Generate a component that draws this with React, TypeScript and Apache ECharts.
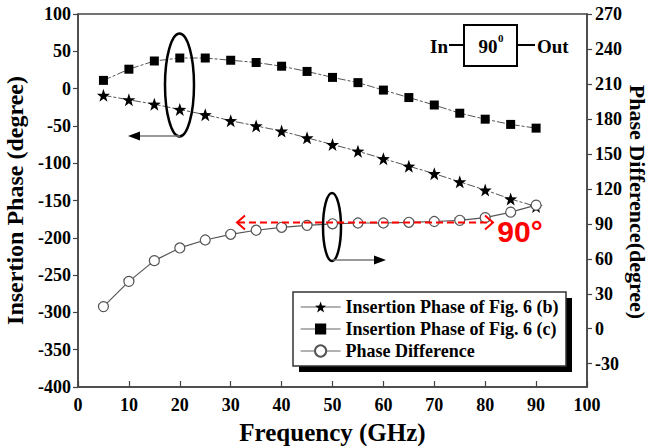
import React, { useEffect, useRef } from 'react';
import * as echarts from 'echarts';

const freqs = [5, 10, 15, 20, 25, 30, 35, 40, 45, 50, 55, 60, 65, 70, 75, 80, 85, 90];
const phaseB = [-9, -15, -21, -28, -35, -43, -50, -57, -66, -75, -84, -94, -104, -114, -125, -136, -148, -158];
const phaseC = [11, 26, 37, 41, 41, 38, 35, 30, 23, 15, 8, -2, -12, -22, -33, -41, -48, -53];
const phaseDiff = [19, 40.6, 58.4, 69.3, 76.1, 81, 84.5, 87, 88.7, 90, 90.7, 90.7, 91.3, 92, 93, 95.3, 100, 106];
const rightTicks = [-30, 0, 30, 60, 90, 120, 150, 180, 210, 240, 270];
const seriesNames = ['Insertion Phase of Fig. 6 (b)', 'Insertion Phase of Fig. 6 (c)', 'Phase Difference'];

const STAR = 'path://M0,-10 L2.35,-3.24 L9.51,-3.09 L3.8,1.24 L5.88,8.09 L0,4 L-5.88,8.09 L-3.8,1.24 L-9.51,-3.09 L-2.35,-3.24Z';
const SERIF = '"Liberation Serif", "Times New Roman", serif';

const pair = (ys: number[]) => freqs.map((f, i) => [f, ys[i]]);

export default function App() {
  const ref = useRef<HTMLDivElement>(null);
  useEffect(() => {
    if (!ref.current) return;
    const chart = echarts.init(ref.current, null, { renderer: 'svg' });
    const tickLabel = { color: '#000', fontFamily: SERIF, fontWeight: 'bold' as const, fontSize: 18 };
    const lineStyle = { color: '#444', width: 1.5 };
    chart.setOption({
      animation: false,
      backgroundColor: '#fff',
      grid: {
        left: 78, right: 65, top: 14, bottom: 59, show: true, borderColor: '#444', borderWidth: 1.5,
        containLabel: false, outerBoundsMode: 'none',
      },
      xAxis: {
        type: 'value', min: 0, max: 100, interval: 10,
        axisLine: { show: true, onZero: false, lineStyle }, splitLine: { show: false },
        axisTick: { inside: true, length: 6, lineStyle: { color: '#444', width: 1.2 } },
        axisLabel: { ...tickLabel, margin: 9 },
        name: 'Frequency (GHz)', nameLocation: 'middle', nameGap: 33,
        nameTextStyle: { color: '#000', fontFamily: SERIF, fontWeight: 'bold', fontSize: 25 },
      },
      yAxis: [
        {
          type: 'value', min: -400, max: 100, interval: 50, position: 'left',
          axisLine: { show: true, onZero: false, lineStyle }, splitLine: { show: false },
          axisTick: { show: true, length: 5, lineStyle: { color: '#444', width: 1.2 } },
          axisLabel: { ...tickLabel, margin: 7 },
          name: 'Insertion Phase (degree)', nameLocation: 'middle', nameGap: 49,
          nameTextStyle: { color: '#000', fontFamily: SERIF, fontWeight: 'bold', fontSize: 24 },
        },
        {
          type: 'value', min: -50, max: 270, position: 'right',
          axisLine: { show: true, onZero: false, lineStyle }, splitLine: { show: false },
          axisTick: { show: true, length: 5, customValues: rightTicks, lineStyle: { color: '#444', width: 1.2 } },
          axisLabel: { ...tickLabel, margin: 8, customValues: rightTicks },
        },
      ],
      legend: {
        orient: 'vertical', left: 300, top: 296, padding: 0, itemGap: 0,
        itemWidth: 40, itemHeight: 14,
        data: seriesNames,
        lineStyle: { type: 'solid', color: '#666', width: 1.2 },
        textStyle: { color: '#000', fontFamily: SERIF, fontWeight: 'bold', fontSize: 18, lineHeight: 22 },
      },
      series: [
        {
          name: seriesNames[0], type: 'line', yAxisIndex: 0, data: pair(phaseB),
          symbol: STAR, symbolSize: 13,
          itemStyle: { color: '#000' },
          lineStyle: { color: '#555', width: 1, type: [8, 2, 3, 2] },
        },
        {
          name: seriesNames[1], type: 'line', yAxisIndex: 0, data: pair(phaseC),
          symbol: 'rect', symbolSize: 9,
          itemStyle: { color: '#000' },
          lineStyle: { color: '#555', width: 1, type: [8, 2, 3, 2] },
        },
        {
          name: seriesNames[2], type: 'line', yAxisIndex: 1, data: pair(phaseDiff),
          symbol: 'circle', symbolSize: 10,
          itemStyle: { color: '#fff', borderColor: '#555', borderWidth: 1.2 },
          lineStyle: { color: '#555', width: 1.2 },
        },
      ],
      graphic: [
        // right axis title
        {
          type: 'text', z: 6, x: 637, y: 202, rotation: -Math.PI / 2,
          style: { text: 'Phase Difference(degree)', fill: '#000', font: 'bold 22px "Liberation Serif", serif', align: 'center', verticalAlign: 'middle' },
        },
        // legend box with shadow
        { type: 'rect', z: 0, shape: { x: 299, y: 298, width: 273, height: 74 }, style: { fill: '#000' } },
        { type: 'rect', z: 1, shape: { x: 293, y: 292, width: 273, height: 74 }, style: { fill: '#fff', stroke: '#333', lineWidth: 1.5 } },
        // ellipse 1 + arrow left
        { type: 'ellipse', z: 5, shape: { cx: 179.5, cy: 85, rx: 14.5, ry: 51.5 }, style: { fill: 'none', stroke: '#000', lineWidth: 2.5 } },
        { type: 'line', z: 5, shape: { x1: 180, y1: 136, x2: 136, y2: 136 }, style: { stroke: '#777', lineWidth: 1.5 } },
        { type: 'polygon', z: 5, shape: { points: [[128, 136], [140, 131.5], [140, 140.5]] }, style: { fill: '#000' } },
        // ellipse 2 + arrow right
        { type: 'ellipse', z: 5, shape: { cx: 332, cy: 227, rx: 9, ry: 34 }, style: { fill: 'none', stroke: '#000', lineWidth: 2.5 } },
        { type: 'line', z: 5, shape: { x1: 333, y1: 260, x2: 378, y2: 260 }, style: { stroke: '#777', lineWidth: 1.5 } },
        { type: 'polygon', z: 5, shape: { points: [[386, 260], [374, 255.5], [374, 264.5]] }, style: { fill: '#000' } },
        // red dashed double arrow
        { type: 'line', z: 6, shape: { x1: 238, y1: 222.5, x2: 492, y2: 222.5 }, style: { stroke: '#ff0000', lineWidth: 2, lineDash: [7, 4] } },
        { type: 'polyline', z: 6, shape: { points: [[245, 215.5], [237, 222.5], [245, 229.5]] }, style: { stroke: '#ff0000', lineWidth: 2, fill: 'none' } },
        { type: 'polyline', z: 6, shape: { points: [[485, 215.5], [493, 222.5], [485, 229.5]] }, style: { stroke: '#ff0000', lineWidth: 2, fill: 'none' } },
        {
          type: 'text', z: 6, x: 520, y: 231,
          style: { text: '90°', fill: '#ff0000', font: 'bold 30px "Liberation Sans", Arial, sans-serif', align: 'center', verticalAlign: 'middle' },
        },
        // inset block diagram
        { type: 'rect', z: 5, shape: { x: 464, y: 25, width: 53, height: 41 }, style: { fill: '#fff', stroke: '#000', lineWidth: 2 } },
        { type: 'line', z: 5, shape: { x1: 449, y1: 45, x2: 464, y2: 45 }, style: { stroke: '#000', lineWidth: 2 } },
        { type: 'line', z: 5, shape: { x1: 517, y1: 45, x2: 535, y2: 45 }, style: { stroke: '#000', lineWidth: 2 } },
        {
          type: 'text', z: 6, x: 448, y: 46,
          style: { text: 'In', fill: '#000', font: 'bold 19px "Liberation Serif", serif', align: 'right', verticalAlign: 'middle' },
        },
        {
          type: 'text', z: 6, x: 537, y: 46,
          style: { text: 'Out', fill: '#000', font: 'bold 19px "Liberation Serif", serif', align: 'left', verticalAlign: 'middle' },
        },
        {
          type: 'text', z: 6, x: 488, y: 46,
          style: { text: '90', fill: '#000', font: 'bold 19px "Liberation Serif", serif', align: 'center', verticalAlign: 'middle' },
        },
        {
          type: 'text', z: 6, x: 498, y: 38,
          style: { text: '0', fill: '#000', font: 'bold 11px "Liberation Serif", serif', align: 'left', verticalAlign: 'middle' },
        },
      ],
    });
    return () => chart.dispose();
  }, []);
  return <div ref={ref} style={{ width: 652, height: 446, position: 'absolute', left: 0, top: 0 }} />;
}
